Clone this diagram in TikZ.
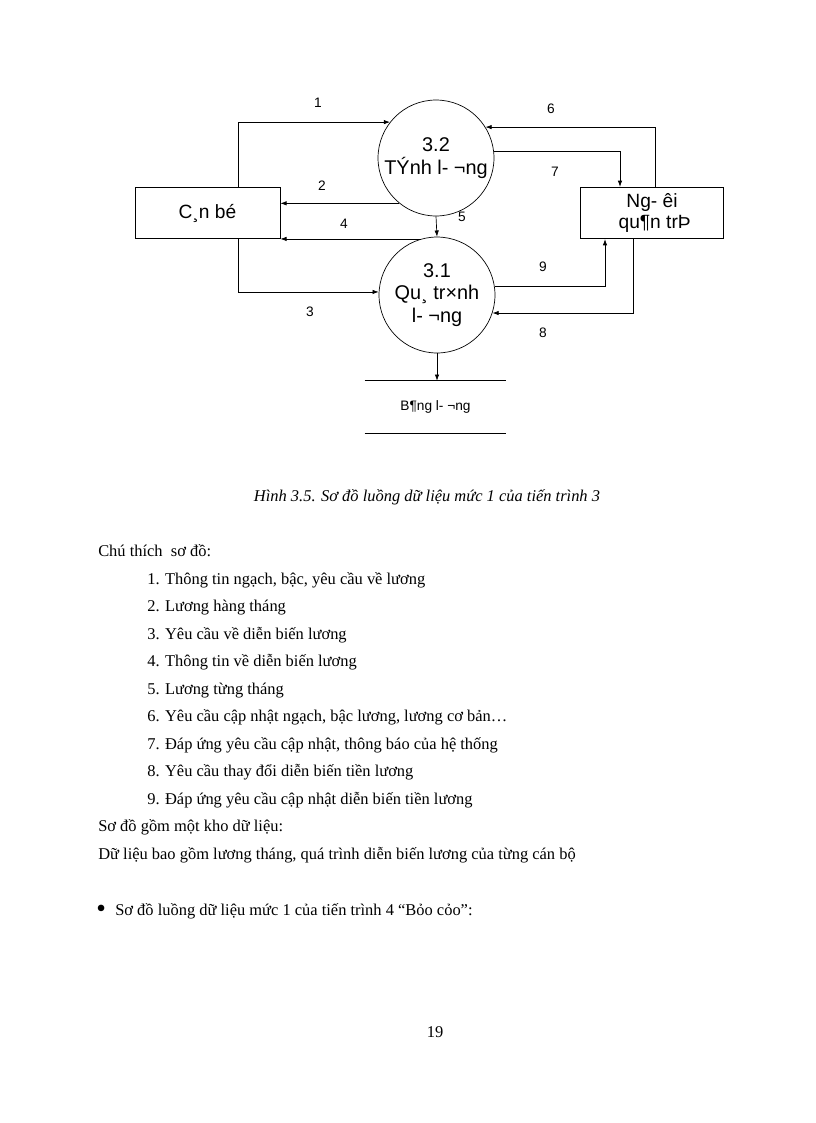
\documentclass[tikz,border=0pt]{standalone}
\usepackage{fontspec}
\setmainfont{Liberation Serif}
\newfontfamily\arialfont{Liberation Sans}
\usepackage{tikz}
\usetikzlibrary{positioning,calc,arrows.meta}

\tikzset{
    proc/.style={draw, circle, line width=0.5pt, minimum size=84.6pt, inner sep=0pt, align=center,
        font=\arialfont\fontsize{14.5}{16.5}\selectfont},
    ent/.style={draw, rectangle, line width=0.5pt, minimum width=105.8pt, minimum height=37.6pt, align=center,
        font=\arialfont\fontsize{14}{16}\selectfont},
    flow/.style={-{Latex[length=4.5pt,width=3.2pt]}, line width=0.5pt},
    num/.style={font=\arialfont\fontsize{10}{12}\selectfont},
    body/.style={anchor=base west, inner sep=0pt, font=\fontsize{12}{14}\selectfont},
}

\begin{document}
\begin{tikzpicture}[x=0.72951pt, y=-0.72951pt]
    \useasboundingbox[fill=white] (0,0) rectangle (816,1123);

    % Processes and entities
    \node[proc] (tinhluong) at (436,158) {3.2\\TÝnh l- ¬ng};
    \node[proc] (quatrinh) at (437,295) {3.1\\Qu¸ tr×nh\\l- ¬ng};
    \node[ent] (canbo) at (207.5,213) {C¸n bé};
    \node[ent, minimum width=104.3pt] (quantri) at (652,213) {Ng- êi\\\ qu¶n trÞ};

    % Data store
    \node[minimum width=102.9pt, minimum height=37.9pt, inner sep=0pt,
        font=\arialfont\fontsize{10}{12}\selectfont] (bangluong) at (435.5,407) {B¶ng l- ¬ng};
    \draw[line width=0.5pt] (bangluong.north west) -- (bangluong.north east);
    \draw[line width=0.5pt] (bangluong.south west) -- (bangluong.south east);

    % Data flows
    \draw[flow] ($(canbo.north)+(30.5,0)$) |- (tinhluong.142);
    \draw[flow] (tinhluong.231) -- (tinhluong.231 -| canbo.east);
    \draw[flow] ($(canbo.south)+(30.5,0)$) |- (quatrinh.177);
    \draw[flow] (quatrinh.106) -- (quatrinh.106 -| canbo.east);
    \draw[flow] (tinhluong.south) -- (quatrinh.north);
    \draw[flow] ($(quantri.north)+(3,0)$) |- (tinhluong.32);
    \draw[flow] (tinhluong.7) -| ($(quantri.north)+(-32,0)$);
    \draw[flow] ($(quantri.south)+(-19,0)$) |- (quatrinh.342);
    \draw[flow] (quatrinh.9) -| ($(quantri.south)+(-47,0)$);
    \draw[flow] (quatrinh.south) -- (quatrinh.south |- bangluong.north);

    % Flow numbers
    \node[num] (n1) at (318,103) {1};
    \node[num] (n2) at (322,186) {2};
    \node[num] (n3) at (310,312) {3};
    \node[num] (n4) at (344,224) {4};
    \node[num] (n5) at (462,217) {5};
    \node[num] (n6) at (551,109) {6};
    \node[num] (n7) at (555,172) {7};
    \node[num] (n8) at (543,333) {8};
    \node[num] (n9) at (543,267) {9};

    % Caption
    \node[font=\itshape\fontsize{12}{14}\selectfont] (caption) at (427,497) {Hình 3.5. Sơ đồ luồng dữ liệu mức 1 của tiến trình 3};

    % Legend
    \node[body] (legend) at (98,556) {Chú thích \ sơ đồ:};
    \foreach \txt [count=\k] in {
        {Thông tin ngạch, bậc, yêu cầu về lương},
        {Lương hàng tháng},
        {Yêu cầu về diễn biến lương},
        {Thông tin về diễn biến lương},
        {Lương từng tháng},
        {Yêu cầu cập nhật ngạch, bậc lương, lương cơ bản…},
        {Đáp ứng yêu cầu cập nhật, thông báo của hệ thống},
        {Yêu cầu thay đổi diễn biến tiền lương},
        {Đáp ứng yêu cầu cập nhật diễn biến tiền lương}}
        \node[body] (item\k) at (147,{584+27.5*(\k-1)}) {\k. \txt};
    \node[body] (khodl) at (98,831) {Sơ đồ gồm một kho dữ liệu:};
    \node[body] (dulieu) at (98,859) {Dữ liệu bao gồm lương tháng, quá trình diễn biến lương của từng cán bộ};
    \node[body, font=\fontsize{20}{20}\selectfont] (bullet) at (96,917) {•};
    \node[body] (tientrinh) at (115,915) {Sơ đồ luồng dữ liệu mức 1 của tiến trình 4 “Bỏo cỏo”:};

    % Page number
    \node[body, anchor=base] (page) at (435,1037) {19};
\end{tikzpicture}
\end{document}
